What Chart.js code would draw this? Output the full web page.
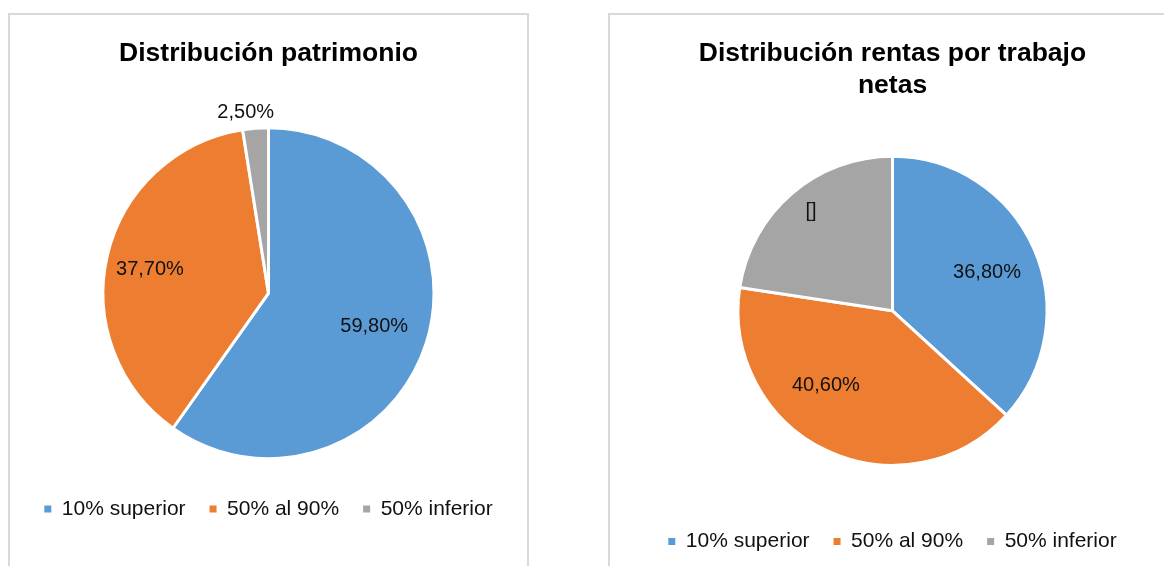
<!DOCTYPE html>
<html lang="es">
<head>
  <meta charset="UTF-8">
  <title>Distribución patrimonio y rentas</title>
  <style>
    html, body { margin: 0; padding: 0; background: #fff; overflow: hidden; }
    body { width: 1164px; height: 566px; position: relative; }
    .panel { position: absolute; top: 13px; height: 600px; border: 2px solid #d9d9d9; box-sizing: border-box; background: #fff; }
    .chartBox { position: absolute; top: 15px; height: 551px; }
  </style>
</head>
<body>
  <div class="panel" style="left:8px; width:521px;"></div>
  <div class="panel" style="left:608px; width:569px;"></div>
  <div class="chartBox" style="left:10px; width:517px;">
    <canvas id="chartPatrimonio"></canvas>
  </div>
  <div class="chartBox" style="left:610px; width:565px;">
    <canvas id="chartRentas"></canvas>
  </div>

  <script src="https://cdn.jsdelivr.net/npm/chart.js"></script>
  <script>
    // datos
    const categorias = ['10% superior', '50% al 90%', '50% inferior'];
    const patrimonio = [59.8, 37.7, 2.5];
    const rentas = [36.8, 40.6, 22.6];
    // etiqueta rota en el gráfico de rentas (gris)
    const etiquetasRentas = [null, null, '[]'];

    const colores = ['#5b9bd5', '#ed7d31', '#a5a5a5'];
    const fuente = "'Liberation Sans', Arial, sans-serif";
    Chart.defaults.font.family = fuente;

    // posición de etiquetas: [fracción del radio, desplazamiento angular en grados]
    const posPatrimonio = [[0.67, 0], [0.73, -2], [1.10, -2.7]];
    const posRentas = [[0.66, 1.7], [0.65, 16], [0.83, 1.2]];

    const formato = v => v.toFixed(2).replace('.', ',') + '%';

    // dibuja los porcentajes sobre cada sector
    const etiquetasPlugin = {
      id: 'etiquetas',
      afterDatasetsDraw(chart, args, opts) {
        const ctx = chart.ctx;
        const meta = chart.getDatasetMeta(0);
        const valores = chart.data.datasets[0].data;
        ctx.save();
        ctx.font = '20px ' + fuente;
        ctx.fillStyle = '#111';
        ctx.textAlign = 'center';
        ctx.textBaseline = 'middle';
        meta.data.forEach((arc, i) => {
          const p = arc.getProps(['x', 'y', 'startAngle', 'endAngle', 'outerRadius'], true);
          const [f, d] = opts.pos[i];
          const a = (p.startAngle + p.endAngle) / 2 + d * Math.PI / 180;
          const txt = (opts.textos && opts.textos[i]) || formato(valores[i]);
          ctx.fillText(txt, p.x + Math.cos(a) * p.outerRadius * f, p.y + Math.sin(a) * p.outerRadius * f);
        });
        ctx.restore();
      }
    };

    function leyenda(chart) {
      return chart.data.labels.map((text, i) => ({
        text, fillStyle: colores[i], strokeStyle: colores[i], lineWidth: 0, hidden: false, index: i, fontColor: '#111'
      }));
    }

    function crear(id, titulo, valores, radio, pos, textos, padTitulo, padAbajo) {
      return new Chart(document.getElementById(id), {
        type: 'pie',
        data: {
          labels: categorias,
          datasets: [{
            data: valores,
            backgroundColor: colores,
            borderColor: '#fff',
            borderWidth: 3,
            hoverOffset: 0,
            radius: radio
          }]
        },
        options: {
          responsive: true,
          maintainAspectRatio: false,
          animation: false,
          events: [],
          layout: { padding: { bottom: padAbajo } },
          plugins: {
            title: {
              display: true,
              text: titulo,
              color: '#000',
              font: { size: 26.5, weight: 'bold' },
              padding: { top: 23, bottom: padTitulo }
            },
            legend: {
              position: 'bottom',
              labels: {
                boxWidth: 7,
                boxHeight: 7,
                padding: 24,
                color: '#111',
                font: { size: 21 },
                generateLabels: leyenda
              }
            },
            tooltip: { enabled: false },
            etiquetas: { pos, textos }
          }
        },
        plugins: [etiquetasPlugin]
      });
    }

    crear('chartPatrimonio', 'Distribución patrimonio', patrimonio, 165.5, posPatrimonio, null, 42, 36.5);
    crear('chartRentas', ['Distribución rentas por trabajo', 'netas'], rentas, 154.5, posRentas, etiquetasRentas, 13, 4);
  </script>
</body>
</html>
